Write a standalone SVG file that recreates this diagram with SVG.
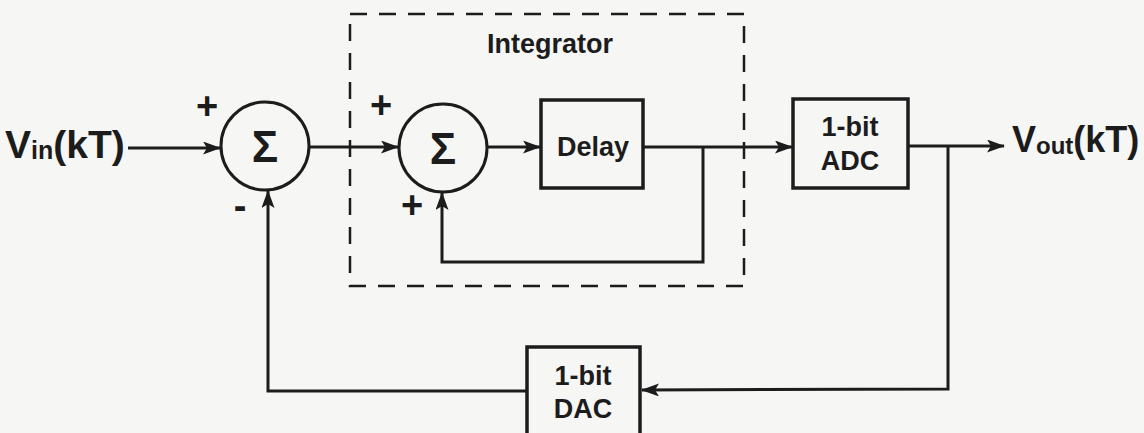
<svg xmlns="http://www.w3.org/2000/svg" width="1144" height="433" viewBox="0 0 1144 433">
<defs>
<style>
.ln{fill:none;stroke:#1c1c1c;stroke-width:3;stroke-linejoin:miter}
.bx{fill:none;stroke:#1c1c1c;stroke-width:3.5}
.t{font-family:"Liberation Sans",Arial,sans-serif;font-weight:bold;fill:#1c1c1c;text-anchor:middle}
.big{font-family:"Liberation Sans",Arial,sans-serif;font-weight:bold;fill:#1c1c1c}
.dash{fill:none;stroke:#1c1c1c;stroke-width:2.5;stroke-dasharray:17 12}
</style>
<marker id="ah" viewBox="0 0 18 13" refX="17" refY="6.5" markerWidth="18" markerHeight="13" markerUnits="userSpaceOnUse" orient="auto">
<path d="M0,0 L18,6.5 L0,13 L4,6.5 Z" fill="#1c1c1c"/>
</marker>
</defs>
<rect width="1144" height="433" fill="#f6f6f4"/>

<g id="integrator-boundary">
<rect x="350" y="14" width="394" height="272" class="dash"/>
<text x="550" y="53" class="t" font-size="27">Integrator</text>
</g>

<g id="vin">
<text x="5" y="158" class="big" font-size="39">V<tspan font-size="25" dy="1">in</tspan><tspan dy="-1">(kT)</tspan></text>
</g>

<g id="sum1">
<circle cx="265" cy="146" r="44" class="ln"/>
<text x="265" y="162" class="t" font-size="44">Σ</text>
<text x="207" y="119" class="t" font-size="38">+</text>
<text x="240" y="219" class="t" font-size="38">-</text>
</g>

<g id="sum2">
<circle cx="443" cy="148" r="44" class="ln"/>
<text x="443" y="164" class="t" font-size="44">Σ</text>
<text x="381" y="118" class="t" font-size="38">+</text>
<text x="412" y="218" class="t" font-size="38">+</text>
</g>

<g id="delay">
<rect x="541" y="100" width="102" height="88" class="bx"/>
<text x="593" y="156" class="t" font-size="27">Delay</text>
</g>

<g id="adc">
<rect x="793" y="99" width="115" height="89" class="bx"/>
<text x="850" y="136" class="t" font-size="27">1-bit</text>
<text x="850" y="170" class="t" font-size="27">ADC</text>
</g>

<g id="dac">
<rect x="527" y="347" width="113" height="100" class="bx"/>
<text x="583" y="385" class="t" font-size="27">1-bit</text>
<text x="583" y="418" class="t" font-size="27">DAC</text>
</g>

<g id="vout">
<text x="1012" y="152" class="big" font-size="36">V<tspan font-size="24" dy="2">out</tspan><tspan dy="-2">(kT)</tspan></text>
</g>

<g id="connectors">
<path d="M128,148 L220,148" class="ln" marker-end="url(#ah)"/>
<path d="M309,147 L398,147" class="ln" marker-end="url(#ah)"/>
<path d="M487,147 L540,147" class="ln" marker-end="url(#ah)"/>
<path d="M643,147 L792,147" class="ln" marker-end="url(#ah)"/>
<path d="M703,147 L703,262 L442,262 L442,193" class="ln" marker-end="url(#ah)"/>
<path d="M908,146 L1004,146" class="ln" marker-end="url(#ah)"/>
<path d="M948,146 L948,389 L642,390" class="ln" marker-end="url(#ah)"/>
<path d="M527,391 L268,391 L268,191" class="ln" marker-end="url(#ah)"/>
</g>
</svg>
